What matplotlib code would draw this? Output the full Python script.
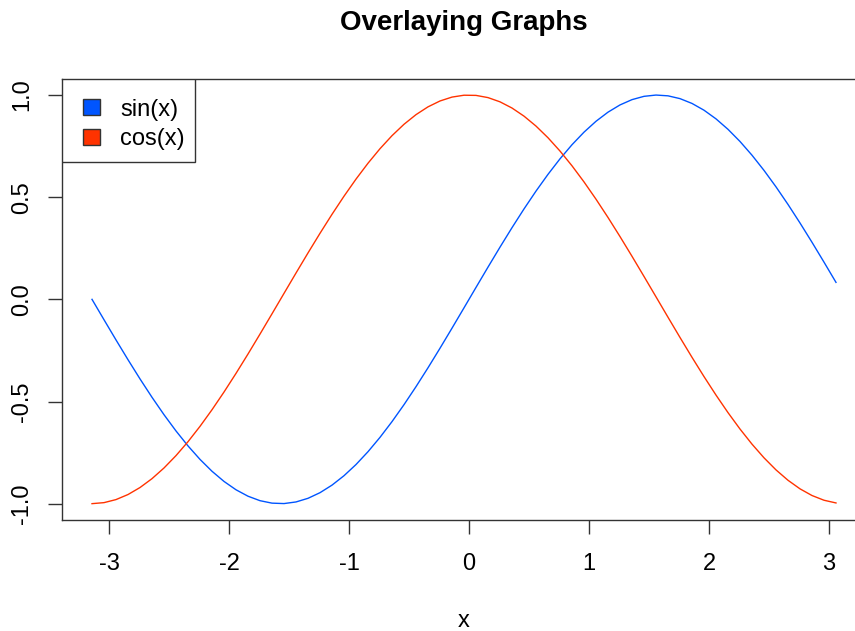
import numpy as np
import matplotlib
matplotlib.use("Agg")
import matplotlib.pyplot as plt
from matplotlib.patches import Patch, Rectangle

plt.rcParams["font.family"] = ["Liberation Sans", "DejaVu Sans"]
plt.rcParams["axes.unicode_minus"] = False

# x grid like seq(-pi, pi, 0.1)
x = np.arange(-np.pi, np.pi, 0.1)
series_names = ["sin(x)", "cos(x)"]
series_colors = ["#0055FF", "#FF3300"]
xticks = [-3, -2, -1, 0, 1, 2, 3]
yticks = [-1.0, -0.5, 0.0, 0.5, 1.0]
ytick_labels = ["-1.0", "-0.5", "0.0", "0.5", "1.0"]

fig = plt.figure(figsize=(8.55, 6.31), dpi=100)
ax = fig.add_axes([62.25 / 855, 111 / 631, 803.5 / 855, 441.3 / 631])

ax.plot(x, np.sin(x), color=series_colors[0], lw=1.0)
ax.plot(x, np.cos(x), color=series_colors[1], lw=1.0)

# R-style 4% padding on both axes
span = x[-1] - x[0]
ax.set_xlim(x[0] - 0.04 * span, x[-1] + 0.04 * span)
ax.set_ylim(-1.08, 1.08)

ax.set_xticks(xticks)
ax.set_xticklabels([str(t) for t in xticks])
ax.set_yticks(yticks)
ax.set_yticklabels(ytick_labels, rotation=90, va="center")
ax.tick_params(axis="both", length=10, width=1.0, color="#333333",
               labelsize=17)
ax.tick_params(axis="x", pad=14)
ax.tick_params(axis="y", pad=11)
for s in ax.spines.values():
    s.set_color("#333333")
    s.set_linewidth(1.0)

fig.text(464 / 855, 1 - 621 / 631, "x", ha="center", va="center", fontsize=17)
fig.text(464 / 855, 1 - 23 / 631, "Overlaying Graphs", ha="center", va="center",
         fontsize=20, fontweight="bold")

# legend box drawn separately so the padding can be uneven like R's
ax.add_patch(Rectangle((0, 0.811), 0.1652, 0.189, transform=ax.transAxes,
                       facecolor="white", edgecolor="#333333", lw=1.0, zorder=4))
handles = [Patch(facecolor=c, edgecolor="#333333", linewidth=1.0) for c in series_colors]
leg = ax.legend(handles, series_names, loc="upper left",
                bbox_to_anchor=(0.0258, 0.955), borderaxespad=0, borderpad=0,
                frameon=False, fontsize=17,
                handlelength=0.72, handleheight=0.64, handletextpad=0.85,
                labelspacing=0.33)
leg.set_zorder(5)

fig.savefig("out.png", dpi=100)
